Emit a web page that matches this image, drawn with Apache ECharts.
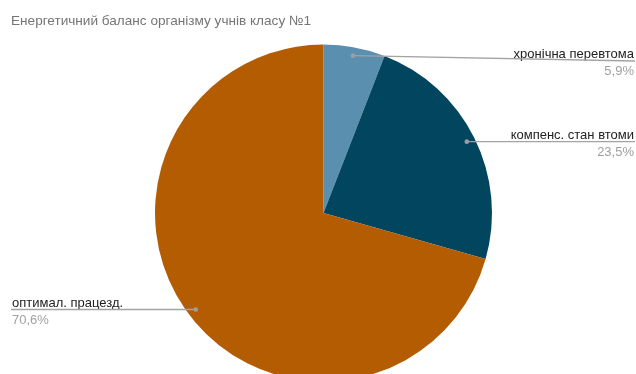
<!DOCTYPE html>
<html>
<head>
<meta charset="utf-8">
<script src="https://cdn.jsdelivr.net/npm/echarts@6/dist/echarts.min.js"></script>
<style>html,body{margin:0;padding:0;background:#fff}#c{width:636px;height:374px}</style>
</head>
<body>
<div id="c"></div>
<script>
const titleText = 'Енергетичний баланс організму учнів класу №1';
const categories = ['хронічна перевтома', 'компенс. стан втоми', 'оптимал. працезд.'];
const values = [5.9, 23.5, 70.6];
const colors = ['#5b8fb0', '#01455f', '#b45c02'];

const chart = echarts.init(document.getElementById('c'), null, {renderer: 'canvas'});
const W = chart.getWidth();
const CX = 323.5, CY = 213, R = 168.5;
const DOT_R = 0.95 * R;
const LABEL_MIN_Y = 61;
const FONT = 'Liberation Sans, Arial, sans-serif';

const total = values.reduce((a, b) => a + b, 0);
// anchor positions at mid-angle of each slice, clockwise from top
const anchors = [];
let acc = 0;
values.forEach(v => {
  const mid = (acc + v / 2) / total * Math.PI * 2;
  acc += v;
  const x = CX + Math.sin(mid) * DOT_R, y = CY - Math.cos(mid) * DOT_R;
  const right = x >= CX;
  anchors.push({x, y, right, lineY: Math.max(y, LABEL_MIN_Y), edgeX: right ? W - 1 : 11});
});

function fmt(v) { return v.toFixed(1).replace('.', ',') + '%'; }

const graphics = [];
anchors.forEach(a => {
  graphics.push({
    type: 'polyline', z: 100,
    shape: {points: [[a.x, a.y], [a.edgeX, a.lineY]]},
    style: {stroke: '#a3a3a3', lineWidth: 1.3, fill: null}
  });
  graphics.push({
    type: 'circle', z: 101,
    shape: {cx: a.x, cy: a.y, r: 2.3},
    style: {fill: '#9e9e9e'}
  });
});

chart.setOption({
  animation: false,
  title: {
    text: titleText,
    left: 6, top: 9,
    textStyle: {color: '#757575', fontSize: 13.6, fontWeight: 'normal', fontFamily: FONT}
  },
  graphic: graphics,
  series: [{
    type: 'pie',
    center: [CX, CY],
    radius: R,
    startAngle: 90,
    clockwise: true,
    avoidLabelOverlap: false,
    itemStyle: {borderWidth: 0},
    emphasis: {disabled: true},
    data: categories.map((c, i) => ({name: c, value: values[i], itemStyle: {color: colors[i]}})),
    label: {
      show: true,
      position: 'outside',
      formatter: p => '{n|' + p.name + '}\n{p|' + fmt(values[p.dataIndex]) + '}',
      rich: {
        n: {fontSize: 13, color: '#222222', lineHeight: 13, fontFamily: FONT},
        p: {fontSize: 13, color: '#a0a0a0', lineHeight: 21, fontFamily: FONT}
      }
    },
    labelLine: {show: false},
    labelLayout: function (params) {
      const a = anchors[params.dataIndex];
      return {
        x: a.right ? W - 2 : 12,
        y: a.lineY - 13,
        align: a.right ? 'right' : 'left',
        verticalAlign: 'top'
      };
    }
  }]
});
</script>
</body>
</html>
